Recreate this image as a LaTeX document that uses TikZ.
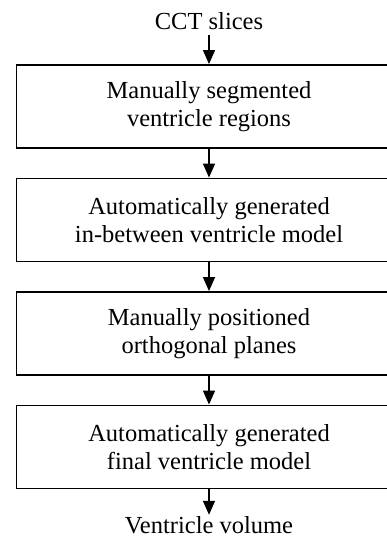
\documentclass[tikz,border=0pt]{standalone}
\usepackage{fontspec}
\setmainfont{Liberation Serif}
\usetikzlibrary{arrows.meta}
\begin{document}
\begin{tikzpicture}[x=1pt,y=1pt,
  stepbox/.style={draw, line width=1.8pt, minimum width=385pt, minimum height=83pt, align=center, inner sep=0pt, font=\fontsize{24.5}{28.5}\selectfont},
  lbl/.style={font=\fontsize{24.5}{28.5}\selectfont, inner sep=0pt},
  arr/.style={-{Triangle[length=14pt,width=12pt]}, line width=1.3pt}]
\useasboundingbox (0,0) rectangle (387,540);
\clip (0,0) rectangle (387,540);
\node[lbl, anchor=base] (top) at (209,510) {CCT slices};
\node[stepbox] (b1) at (209,433.5) {Manually segmented\\ventricle regions};
\node[stepbox] (b2) at (209,320) {Automatically generated\\in-between ventricle model};
\node[stepbox] (b3) at (209,206.5) {Manually positioned\\orthogonal planes};
\node[stepbox] (b4) at (209,93) {Automatically generated\\final ventricle model};
\node[lbl, anchor=base] (bot) at (209,6) {Ventricle volume};
\draw[arr] ([yshift=-5pt]top.south) -- (b1.north);
\draw[arr] (b1.south) -- (b2.north);
\draw[arr] (b2.south) -- (b3.north);
\draw[arr] (b3.south) -- (b4.north);
\draw[arr, shorten >=2pt] (b4.south) -- (bot.north);
\end{tikzpicture}
\end{document}
